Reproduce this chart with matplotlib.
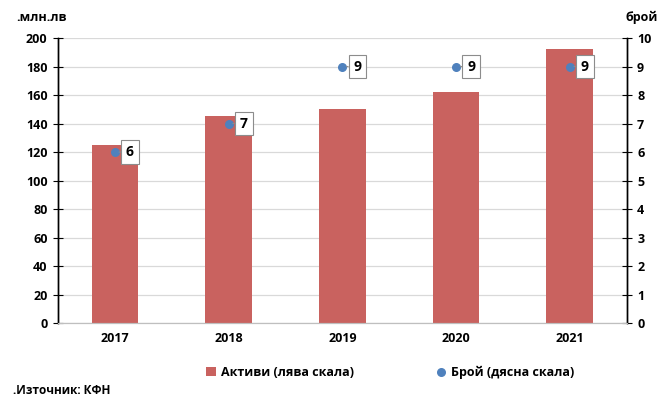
import numpy as np
import matplotlib.pyplot as plt

# Данни
years = ['2017', '2018', '2019', '2020', '2021']
assets = [125, 145, 150, 162, 192]   # млн. лв (лява скала)
count = [6, 7, 9, 9, 9]              # брой (дясна скала)

plt.rcParams['font.family'] = ['Open Sans', 'DejaVu Sans']
plt.rcParams['font.weight'] = 'bold'

fig = plt.figure(figsize=(6.69, 3.98), dpi=100)
ax = fig.add_axes([0.0867, 0.188, 0.85, 0.7165])
ax2 = ax.twinx()

x = np.arange(len(years))
ax.bar(x, assets, width=0.41, color='#c9625f', zorder=2, label='Активи (лява скала)')
ax.set_xlim(-0.5, len(years) - 0.5)
ax.set_ylim(0, 200)
ax.set_yticks(np.arange(0, 201, 20))
ax.grid(axis='y', color='#d9d9d9', linewidth=0.9, zorder=0)
ax.set_axisbelow(True)
ax.set_xticks(x)
ax.set_xticklabels(years, fontsize=9, fontweight='bold')
ax.tick_params(axis='x', length=0, pad=6)
ax.tick_params(axis='y', direction='inout', length=7, labelsize=9, pad=4)

ax2.scatter(x, count, s=30, color='#4f81bd', zorder=4, label='Брой (дясна скала)')
ax2.set_ylim(0, 10)
ax2.set_yticks(np.arange(0, 11, 1))
ax2.tick_params(axis='y', direction='inout', length=7, labelsize=9, pad=4)

for xi, c in zip(x, count):
    ax2.annotate(str(c), xy=(xi, c), xytext=(8, 0), textcoords='offset points',
                 ha='left', va='center', fontsize=10, fontweight='bold',
                 bbox=dict(boxstyle='square,pad=0.35', fc='white', ec='#8c8c8c', lw=0.8),
                 arrowprops=dict(arrowstyle='-', color='#8c8c8c', lw=0.8, shrinkA=0, shrinkB=3),
                 zorder=5)

for a in (ax, ax2):
    a.spines['top'].set_visible(False)
    a.spines['left'].set_linewidth(1)
    a.spines['right'].set_linewidth(1)
    a.spines['bottom'].set_color('#bfbfbf')
    for lbl in a.get_yticklabels():
        lbl.set_fontweight('bold')

fig.text(0.025, 0.955, '.млн.лв', fontsize=9, fontweight='bold', ha='left', va='center')
fig.text(0.935, 0.955, 'брой', fontsize=9, fontweight='bold', ha='left', va='center')

h1, l1 = ax.get_legend_handles_labels()
h2, l2 = ax2.get_legend_handles_labels()
fig.legend(h1 + h2, l1 + l2, loc='center', bbox_to_anchor=(0.583, 0.065), ncol=2,
           frameon=False, handlelength=0.8, handletextpad=0.4,
           columnspacing=6.5, prop={'weight': 'bold', 'size': 9})

fig.text(0.02, 0.018, '.Източник: КФН', fontsize=8.5, fontweight='bold', ha='left', va='center')

fig.savefig('out.png', dpi=100)
